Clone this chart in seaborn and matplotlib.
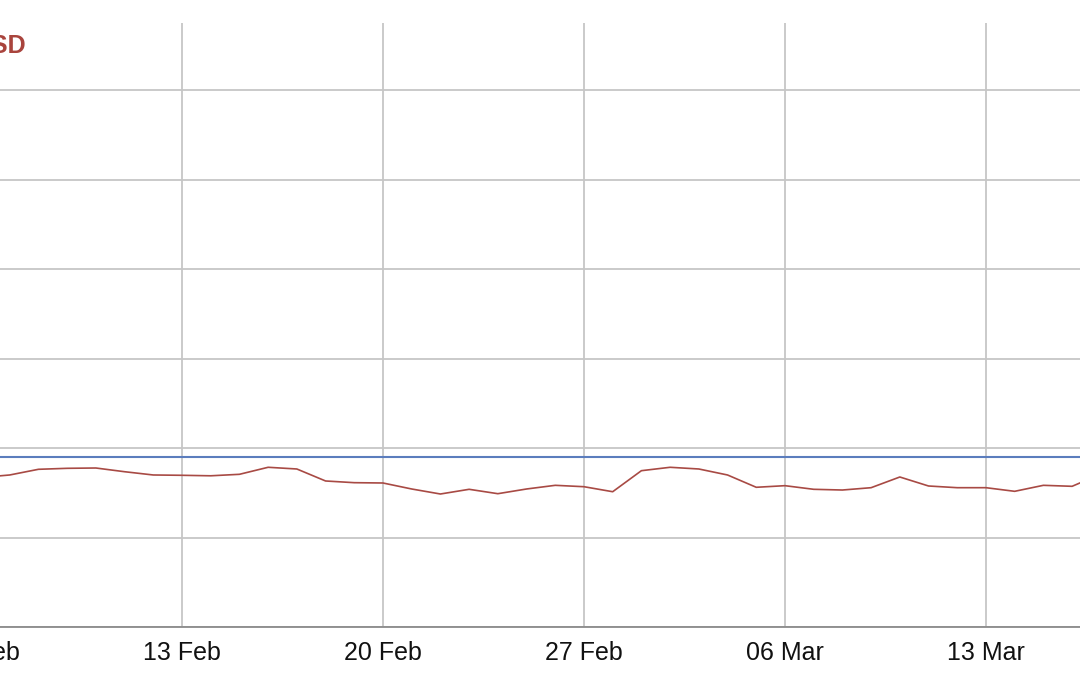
import matplotlib
matplotlib.use("Agg")
import matplotlib.pyplot as plt
import matplotlib.dates as mdates
import seaborn as sns
import pandas as pd

# ---- data ----
dates = pd.date_range("2023-02-06", "2023-03-17", freq="D")
price_usd = [33.41, 33.97, 35.24, 35.46, 35.53, 34.70, 33.97, 33.90, 33.79, 34.12,
             35.69, 35.31, 32.63, 32.25, 32.18, 30.84, 29.72, 30.77, 29.79, 30.84,
             31.66, 31.35, 30.23, 34.93, 35.69, 35.31, 33.97, 31.22, 31.58, 30.77,
             30.61, 31.13, 33.52, 31.51, 31.13, 31.13, 30.32, 31.66, 31.44, 34.19]
reference_level = 38.05
y_ticks = [0, 20, 40, 60, 80, 100, 120]
tick_dates = pd.to_datetime(["2023-02-06", "2023-02-13", "2023-02-20", "2023-02-27",
                             "2023-03-06", "2023-03-13"])
unit_label = "USD"

df = pd.DataFrame({"date": dates, "price": price_usd})

sns.set_style("white")
plt.rcParams["font.family"] = ["Liberation Sans", "DejaVu Sans"]

W, H = 1080, 675
fig = plt.figure(figsize=(W / 100, H / 100), dpi=100)

# axes extends beyond figure edges as in the cropped reference
px_day = 28.71
x_feb6 = -19.0
left_px = x_feb6 - px_day      # Feb 5
right_px = 1072.1 + 2 * px_day  # Mar 18
top_px, bottom_px = 23, 627
ax = fig.add_axes([left_px / W, (H - bottom_px) / H,
                   (right_px - left_px) / W, (bottom_px - top_px) / H])

red = "#a84a44"
blue = "#5b7dbd"

ax.axhline(reference_level, color=blue, lw=1.5, zorder=3)
sns.lineplot(data=df, x="date", y="price", ax=ax, color=red, lw=1.2, zorder=4)

ax.set_xlim(pd.Timestamp("2023-02-05"), pd.Timestamp("2023-03-18"))
ax.set_ylim(0, 120 + (90 - 23) / 89.5 * 20)
ax.set_yticks(y_ticks)
ax.set_xticks(tick_dates)
ax.xaxis.set_major_formatter(mdates.DateFormatter("%d %b"))
ax.tick_params(axis="x", length=0, labelsize=18, pad=10, labelcolor="#111111")
ax.tick_params(axis="y", length=0, labelleft=False)
ax.grid(True, color="#c6c6c6", lw=1.3)
ax.set_axisbelow(True)
ax.set_xlabel("")
ax.set_ylabel("")
for s in ["left", "right", "top"]:
    ax.spines[s].set_visible(False)
ax.spines["bottom"].set_color("#8a8a8a")
ax.spines["bottom"].set_linewidth(1.3)

fig.text(26 / W, 1 - 46 / H, unit_label, ha="right", va="center",
         fontsize=18, fontweight="bold", color="#a9443d")

fig.savefig("out.png", dpi=100)
